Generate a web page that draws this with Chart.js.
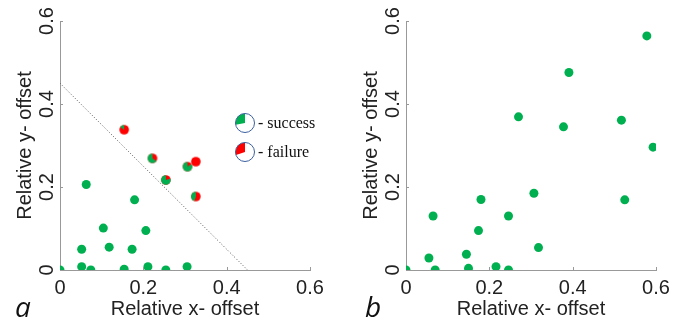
<!DOCTYPE html>
<html>
<head>
<meta charset="utf-8">
<script src="https://cdn.jsdelivr.net/npm/chart.js@4.4.1/dist/chart.umd.min.js"></script>
<style>
  html, body { margin: 0; padding: 0; background: #fff; }
  #wrap { position: relative; width: 686px; height: 322px; }
  canvas { position: absolute; top: 0; }
</style>
</head>
<body>
<div id="wrap">
  <canvas id="panelA" width="343" height="322" style="left:0"></canvas>
  <canvas id="panelB" width="343" height="322" style="left:343px"></canvas>
</div>
<script>
// ---- data ----
const tickValues = [0, 0.2, 0.4, 0.6];
const tickLabels = ['0', '0.2', '0.4', '0.6'];

// panel a : all-success trials
const aSuccessX = [0, 0.052, 0.074, 0.154, 0.211, 0.254, 0.305, 0.052, 0.118, 0.173, 0.104, 0.206, 0.179, 0.063];
const aSuccessY = [0, 0.008, 0, 0.002, 0.008, 0, 0.008, 0.05, 0.055, 0.05, 0.101, 0.095, 0.169, 0.206];

// panel a : mixed trials (share = fraction of successes)
const aMixedX = [0.154, 0.222, 0.254, 0.306, 0.326, 0.326];
const aMixedY = [0.338, 0.269, 0.217, 0.249, 0.261, 0.177];
const aMixedShare = [0.15, 0.65, 0.8, 0.85, 0, 0.45];

// panel a : dotted boundary
const boundaryX = [0, 0.45];
const boundaryY = [0.45, 0];

// panel b
const bX = [0, 0.07, 0.15, 0.216, 0.246, 0.055, 0.145, 0.174, 0.318, 0.065, 0.18, 0.246, 0.307, 0.27, 0.378, 0.391, 0.517, 0.525, 0.593, 0.578];
const bY = [0, 0, 0.004, 0.008, 0, 0.029, 0.038, 0.095, 0.054, 0.13, 0.17, 0.13, 0.185, 0.369, 0.345, 0.476, 0.361, 0.169, 0.296, 0.564];

const GREEN = 'rgb(0,176,80)';
const RED = 'rgb(255,0,0)';
const zip = (xs, ys) => xs.map((x, i) => ({ x, y: ys[i] }));

function pieIcon(share, r) {
  const c = document.createElement('canvas');
  const s = Math.ceil(r * 2 + 2);
  c.width = s; c.height = s;
  const g = c.getContext('2d');
  const cx = s / 2, cy = s / 2, top = -Math.PI / 2;
  g.fillStyle = RED;
  g.beginPath(); g.arc(cx, cy, r, 0, Math.PI * 2); g.fill();
  if (share > 0) {
    g.fillStyle = GREEN;
    g.beginPath(); g.moveTo(cx, cy);
    g.arc(cx, cy, r, top, top - share * Math.PI * 2, true);
    g.closePath(); g.fill();
  }
  return c;
}
const mixedIcons = aMixedShare.map(s => pieIcon(s, 4.8));

// y tick labels (rotated), inward ticks, panel letter, optional legend
const extras = {
  id: 'extras',
  afterDraw(chart, args, opts) {
    const { ctx, scales: { x, y } } = chart;
    ctx.save();
    ctx.strokeStyle = '#999';
    ctx.lineWidth = 1;
    tickValues.slice(1).forEach(v => {
      const px = Math.round(x.getPixelForValue(v)) + 0.5;
      ctx.beginPath(); ctx.moveTo(px, y.bottom); ctx.lineTo(px, y.bottom - 3); ctx.stroke();
      const py = Math.round(y.getPixelForValue(v)) + 0.5;
      ctx.beginPath(); ctx.moveTo(x.left, py); ctx.lineTo(x.left + 3, py); ctx.stroke();
    });
    ctx.fillStyle = '#222';
    ctx.font = '20px "Liberation Sans", Arial, sans-serif';
    ctx.textAlign = 'center';
    ctx.textBaseline = 'middle';
    tickValues.forEach((v, i) => {
      ctx.save();
      ctx.translate(x.left - 13, y.getPixelForValue(v));
      ctx.rotate(-Math.PI / 2);
      ctx.fillText(tickLabels[i], 0, 0);
      ctx.restore();
    });
    ctx.font = 'italic 28px "Open Sans", sans-serif';
    ctx.textAlign = 'left';
    ctx.textBaseline = 'alphabetic';
    ctx.fillStyle = '#111';
    ctx.fillText(opts.letter, opts.letterX, 317);
    if (opts.legend) {
      const items = [['- success', GREEN, 0.28, 123], ['- failure', RED, 0.3, 152]];
      ctx.font = '16px "Liberation Serif", "Times New Roman", serif';
      ctx.textBaseline = 'middle';
      items.forEach(([label, col, share, cy]) => {
        const cx = 245, r = 9.5, top = -Math.PI / 2;
        ctx.fillStyle = col;
        ctx.beginPath(); ctx.moveTo(cx, cy);
        ctx.arc(cx, cy, r, top, top - share * Math.PI * 2, true);
        ctx.closePath(); ctx.fill();
        ctx.strokeStyle = '#3a5f9e';
        ctx.beginPath(); ctx.arc(cx, cy, r, 0, Math.PI * 2); ctx.stroke();
        ctx.fillStyle = '#111';
        ctx.fillText(label, 258, cy + 1);
      });
    }
    ctx.restore();
  }
};

function makePanel(canvasId, datasets, opts) {
  return new Chart(document.getElementById(canvasId), {
    type: 'scatter',
    data: { datasets },
    plugins: [extras],
    options: {
      responsive: false,
      animation: false,
      layout: { padding: { left: 0, right: opts.rightPad, top: 21, bottom: 0 } },
      plugins: {
        legend: { display: false },
        tooltip: { enabled: false },
        extras: opts
      },
      scales: {
        x: {
          type: 'linear', min: 0, max: 0.6,
          afterFit: s => { s.height = 52; },
          afterBuildTicks: s => { s.ticks = tickValues.map(v => ({ value: v })); },
          grid: { display: false, drawTicks: false, tickLength: 0 },
          border: { display: true, color: '#999', width: 1 },
          ticks: {
            color: '#222', padding: 6,
            font: { family: '"Liberation Sans", Arial, sans-serif', size: 20 },
            callback: (v, i) => tickLabels[i]
          },
          title: {
            display: true, text: 'Relative x- offset', color: '#222',
            font: { family: '"Liberation Sans", Arial, sans-serif', size: 20 },
            padding: { top: 0, bottom: 1 }
          }
        },
        y: {
          type: 'linear', min: 0, max: 0.6,
          afterFit: s => { s.width = opts.axisLeft; },
          afterBuildTicks: s => { s.ticks = tickValues.map(v => ({ value: v })); },
          grid: { display: false },
          border: { display: true, color: '#999', width: 1 },
          ticks: { display: false },
          title: {
            display: true, text: 'Relative y- offset', color: '#222',
            font: { family: '"Liberation Sans", Arial, sans-serif', size: 20 },
            padding: { top: opts.titlePad, bottom: 0 }
          }
        }
      }
    }
  });
}

makePanel('panelA', [
  {
    data: zip(boundaryX, boundaryY), showLine: true, pointRadius: 0,
    borderColor: '#555', borderWidth: 1, borderDash: [1, 2]
  },
  {
    data: zip(aSuccessX, aSuccessY), pointRadius: 4.5,
    backgroundColor: GREEN, borderWidth: 0
  },
  {
    data: zip(aMixedX, aMixedY), pointRadius: 4.8,
    pointStyle: c => mixedIcons[c.dataIndex], borderWidth: 0
  }
], { letter: 'a', letterX: 15, legend: true, rightPad: 33, axisLeft: 60, titlePad: 13 });

makePanel('panelB', [
  {
    data: zip(bX, bY), pointRadius: 4.5,
    backgroundColor: GREEN, borderWidth: 0
  }
], { letter: 'b', letterX: 22, legend: false, rightPad: 30, axisLeft: 63, titlePad: 16 });
</script>
</body>
</html>
